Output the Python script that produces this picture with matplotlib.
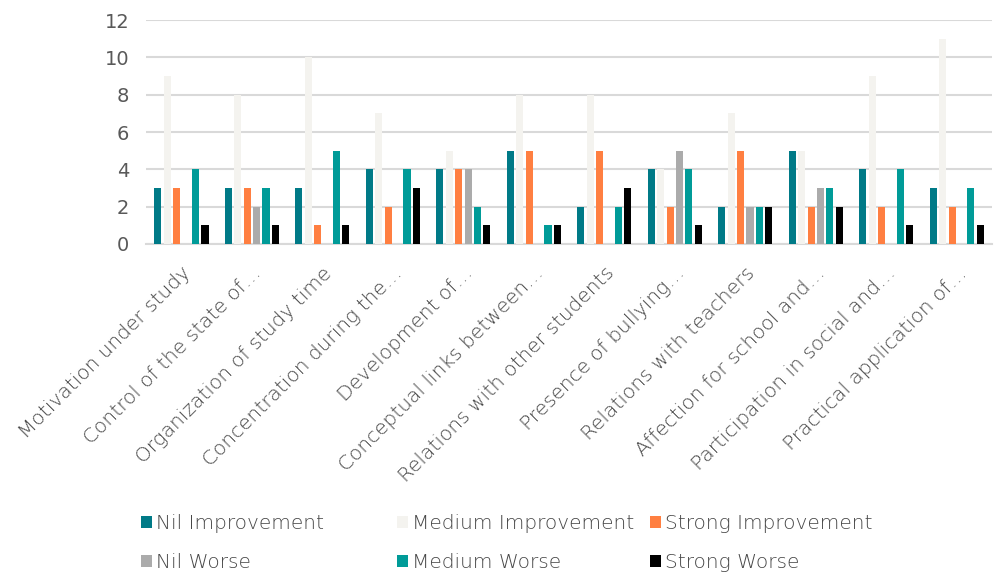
import numpy as np
import matplotlib
matplotlib.use("Agg")
import matplotlib.pyplot as plt

categories = [
    "Motivation under study",
    "Control of the state of…",
    "Organization of study time",
    "Concentration during the…",
    "Development of…",
    "Conceptual links between…",
    "Relations with other students",
    "Presence of bullying…",
    "Relations with teachers",
    "Affection for school and…",
    "Participation in social and…",
    "Practical application of…",
]
series_names = ["Nil Improvement", "Medium Improvement", "Strong Improvement",
                "Nil Worse", "Medium Worse", "Strong Worse"]
nil_improvement = [3, 3, 3, 4, 4, 5, 2, 4, 2, 5, 4, 3]
medium_improvement = [9, 8, 10, 7, 5, 8, 8, 4, 7, 5, 9, 11]
strong_improvement = [3, 3, 1, 2, 4, 5, 5, 2, 5, 2, 2, 2]
nil_worse = [0, 2, 0, 0, 4, 0, 0, 5, 2, 3, 0, 0]
medium_worse = [4, 3, 5, 4, 2, 1, 2, 4, 2, 3, 4, 3]
strong_worse = [1, 1, 1, 3, 1, 1, 3, 1, 2, 2, 1, 1]
colors = ["#007A87", "#F4F3EF", "#FF7F41", "#ABABAB", "#009B98", "#000000"]

series = [nil_improvement, medium_improvement, strong_improvement,
          nil_worse, medium_worse, strong_worse]

plt.rcParams["font.family"] = "DejaVu Sans"
txt = "#595959"
txt_light = "#474747"  # thin glyphs render paler, so darken a bit

fig = plt.figure(figsize=(9.94, 5.74), dpi=100)
ax = fig.add_axes([0.147, 0.575, 0.851, 0.390])

x = np.arange(len(categories))
step = 0.134
width = 0.10
handles = []
for i, (vals, c) in enumerate(zip(series, colors)):
    b = ax.bar(x + (i - 2.5) * step, vals, width, color=c, zorder=3,
               label=series_names[i])
    handles.append(b)

ax.set_xlim(-0.5, len(categories) - 0.5)
ax.set_ylim(0, 12)
ax.set_yticks(range(0, 13, 2))
ax.yaxis.grid(True, color="#D9D9D9", linewidth=1.5, zorder=0)
for s in ["top", "right", "left"]:
    ax.spines[s].set_visible(False)
ax.spines["bottom"].set_color("#D9D9D9")
ax.spines["bottom"].set_linewidth(1.5)
ax.tick_params(axis="y", length=0, pad=12, labelsize=14, labelcolor=txt)
ax.tick_params(axis="x", length=0, pad=14, labelsize=14.5, labelcolor=txt_light)
ax.set_xticks(x)
ax.set_xticklabels(categories, rotation=45, ha="right", rotation_mode="anchor",
                   fontweight="light")

# Excel-style legend: three equal-width columns, two rows
col_x = [141 / 994, 397 / 994, 650 / 994]
for k in range(3):
    hs = [handles[k], handles[k + 3]]
    fig.legend(hs, [series_names[k], series_names[k + 3]],
               loc="upper left", bbox_to_anchor=(col_x[k], 0.105),
               frameon=False, labelcolor=txt_light,
               prop={"size": 14.5, "weight": "light"},
               handlelength=0.55, handleheight=0.55, handletextpad=0.2,
               labelspacing=1.0, borderaxespad=0, borderpad=0)

fig.savefig("out.png", dpi=100)
